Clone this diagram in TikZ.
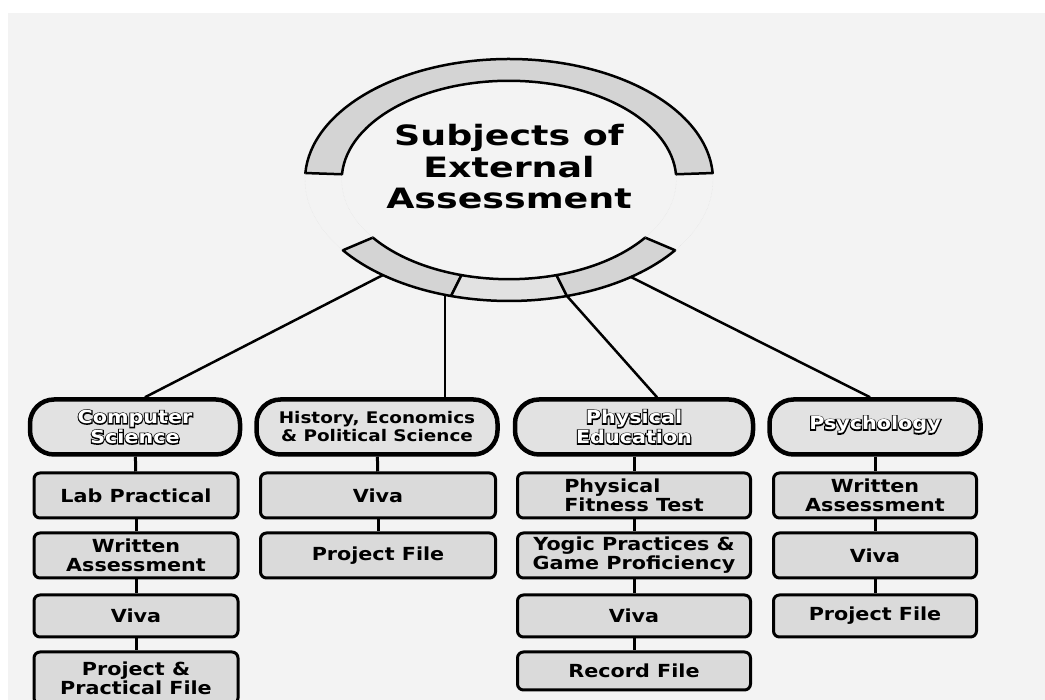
\documentclass[tikz,border=0pt]{standalone}
\usepackage{fontspec}
\setmainfont[FakeStretch=1.15]{DejaVu Sans}
\newfontfamily\titlefont[FakeStretch=1.3]{DejaVu Sans}
\newfontfamily\hollowfont[FakeStretch=1.15,FakeBold=12]{DejaVu Sans}
\newcommand{\hollow}[1]{\rlap{\hollowfont\bfseries\color{black}#1}{\color{white}#1}}
\definecolor{paper}{HTML}{F3F3F3}
\definecolor{ringgrey}{HTML}{D4D4D4}
\definecolor{headgrey}{HTML}{E2E2E2}
\definecolor{boxgrey}{HTML}{DADADA}
\begin{document}
\begin{tikzpicture}[x=1pt,y=1pt,
	head/.style={draw,line width=4.5pt,rounded corners=24pt,fill=headgrey,minimum height=55pt,align=center,font=\fontsize{18}{20}\selectfont\bfseries},
	item/.style={draw,line width=3pt,rounded corners=6pt,fill=boxgrey,minimum height=45pt,align=center,font=\fontsize{18}{19}\selectfont\bfseries},
	link/.style={line width=2.5pt},
	seg/.style={draw,line width=2.5pt,line join=round,fill=ringgrey}]
	\useasboundingbox (0,0) rectangle (1045,700);
	\fill[white] (0,0) rectangle (1045,700);
	\fill[paper] (8,0) rectangle (1045,687);
	\begin{scope}[shift={(509,520)},xscale=204,yscale=121]
		\draw[seg] (3.3:1) arc[start angle=3.3,end angle=176.7,radius=1] -- (176.7:0.82) arc[start angle=176.7,end angle=3.3,radius=0.82] -- cycle;
		\foreach \a/\b/\c in {215.5/253.5/ringgrey,253.5/286.5/headgrey,286.5/324.5/ringgrey}
			\draw[seg,fill=\c] (\a:1) arc[start angle=\a,end angle=\b,radius=1] -- (\b:0.82) arc[start angle=\b,end angle=\a,radius=0.82] -- cycle;
		\foreach \r in {1,0.82}{
			\draw[black!12,densely dotted] (176.7:\r) arc[start angle=176.7,end angle=215.5,radius=\r];
			\draw[black!12,densely dotted] (324.5:\r) arc[start angle=324.5,end angle=363.3,radius=\r];
		}
		\coordinate (ringA) at (231.8:1);
		\coordinate (ringB) at (251.7:1);
		\coordinate (ringC) at (286.5:1);
		\coordinate (ringD) at (306.7:1);
	\end{scope}
	\node[font={\titlefont\fontsize{28}{31.5}\selectfont\bfseries},align=center] (title) at (509,533) {Subjects of\\External\\Assessment};
	\node[head,minimum width=210pt] (cs) at (135,273) {\hollow{Computer}\\\hollow{Science}};
	\node[head,minimum width=241pt,font=\fontsize{16}{18}\selectfont\bfseries] (hp) at (377,273) {History, Economics\\\& Political Science};
	\node[head,minimum width=238pt] (pe) at (634,273) {\hollow{Physical}\\\hollow{Education}};
	\node[head,minimum width=211pt,text depth=8pt] (ps) at (875,273) {\hollow{Psychology}};
	\node[item,minimum width=204pt] (cs1) at (136,204.5) {Lab Practical};
	\node[item,minimum width=204pt] (cs2) at (136,144.5) {Written\\Assessment};
	\node[item,minimum width=204pt,minimum height=42pt] (cs3) at (136,84) {Viva};
	\node[item,minimum width=204pt,minimum height=52pt] (cs4) at (136,22) {Project \&\\Practical File};
	\node[item,minimum width=235pt] (hp1) at (378,204.5) {Viva};
	\node[item,minimum width=235pt] (hp2) at (378,144.5) {Project File};
	\node[item,minimum width=233pt,align=left] (pe1) at (634,204.5) {Physical\\Fitness Test};
	\node[item,minimum width=233pt] (pe2) at (634,144.5) {Yogic Practices \&\\Game Proficiency};
	\node[item,minimum width=233pt,minimum height=42pt] (pe3) at (634,84) {Viva};
	\node[item,minimum width=233pt,minimum height=38pt] (pe4) at (634,29) {Record File};
	\node[item,minimum width=203pt] (ps1) at (875,204.5) {Written\\Assessment};
	\node[item,minimum width=203pt] (ps2) at (875,144.5) {Viva};
	\node[item,minimum width=203pt,minimum height=42pt] (ps3) at (875,84) {Project File};
	\draw[link] (ringA) -- ([xshift=10pt]cs.north);
	\draw[link] (ringB) -- (ringB |- hp.north);
	\draw[link] (ringC) -- ([xshift=23pt]pe.north);
	\draw[link] (ringD) -- ([xshift=-5pt]ps.north);
	\foreach \u/\v in {cs/cs1,cs1/cs2,cs2/cs3,cs3/cs4,hp/hp1,hp1/hp2,pe/pe1,pe1/pe2,pe2/pe3,pe3/pe4,ps/ps1,ps1/ps2,ps2/ps3}
		\draw[link,line width=3pt] (\u) -- (\v);
\end{tikzpicture}
\end{document}
